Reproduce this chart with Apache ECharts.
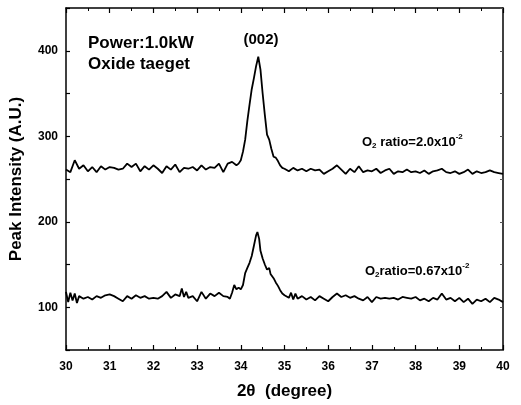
<!DOCTYPE html>
<html>
<head>
<meta charset="utf-8">
<title>XRD (002) peak</title>
<script src="https://cdn.jsdelivr.net/npm/echarts@6/dist/echarts.min.js"></script>
<style>
  html, body { margin: 0; padding: 0; background: #fff; }
  #xrdChart { width: 521px; height: 405px; }
</style>
</head>
<body>
<div id="xrdChart"></div>
<script>
// 2theta (deg), intensity (a.u.)
const highO2 = [
    [30.0, 261], [30.1, 258], [30.2, 272], [30.3, 262], [30.4, 266], [30.5, 259], [30.6, 264],
    [30.7, 258], [30.8, 265], [30.9, 261], [31.0, 264], [31.1, 263], [31.2, 261], [31.3, 262],
    [31.4, 268], [31.5, 264], [31.6, 268], [31.7, 259], [31.8, 265], [31.9, 261], [32.0, 266],
    [32.1, 262], [32.2, 257], [32.3, 265], [32.4, 261], [32.5, 267], [32.6, 258], [32.7, 263],
    [32.8, 262], [32.9, 264], [33.0, 260], [33.1, 266], [33.2, 261], [33.3, 264], [33.4, 263],
    [33.5, 268], [33.6, 258], [33.7, 268], [33.8, 270], [33.9, 266], [33.95, 268], [34.0, 272],
    [34.05, 282], [34.1, 296], [34.15, 318], [34.2, 337], [34.25, 355], [34.3, 368], [34.35, 382],
    [34.4, 393], [34.45, 378], [34.5, 350], [34.55, 325], [34.6, 302], [34.65, 296], [34.7, 285],
    [34.75, 276], [34.8, 275], [34.85, 271], [34.9, 266], [34.95, 263], [35.0, 262], [35.1, 259],
    [35.2, 263], [35.3, 260], [35.4, 262], [35.5, 259], [35.6, 262], [35.7, 260], [35.8, 261],
    [35.9, 256], [36.0, 259], [36.1, 262], [36.2, 266], [36.3, 261], [36.4, 256], [36.5, 262],
    [36.6, 258], [36.7, 265], [36.8, 258], [36.9, 260], [37.0, 259], [37.1, 262], [37.2, 257],
    [37.3, 260], [37.4, 262], [37.5, 256], [37.6, 259], [37.7, 258], [37.8, 261], [37.9, 258],
    [38.0, 259], [38.1, 257], [38.2, 260], [38.3, 256], [38.4, 259], [38.5, 260], [38.6, 262],
    [38.7, 258], [38.8, 257], [38.9, 259], [39.0, 256], [39.1, 258], [39.2, 261], [39.3, 256],
    [39.4, 259], [39.5, 257], [39.6, 258], [39.7, 260], [39.8, 258], [39.9, 257], [40.0, 256],
]

const lowO2 = [
    [30.0, 118], [30.05, 106], [30.1, 117], [30.15, 108], [30.2, 116], [30.25, 105], [30.3, 113],
    [30.4, 110], [30.5, 112], [30.6, 109], [30.7, 113], [30.8, 111], [30.9, 114], [31.0, 115],
    [31.1, 113], [31.2, 110], [31.3, 107], [31.4, 113], [31.5, 110], [31.6, 114], [31.7, 111],
    [31.8, 113], [31.9, 110], [32.0, 111], [32.1, 110], [32.2, 113], [32.3, 118], [32.4, 111],
    [32.5, 115], [32.6, 113], [32.65, 122], [32.7, 112], [32.75, 118], [32.8, 111], [32.9, 113],
    [33.0, 107], [33.1, 118], [33.2, 110], [33.3, 116], [33.4, 113], [33.5, 117], [33.6, 113],
    [33.7, 112], [33.75, 110], [33.8, 117], [33.85, 126], [33.9, 121], [33.95, 123], [34.0, 121],
    [34.05, 126], [34.1, 140], [34.15, 146], [34.2, 152], [34.25, 160], [34.3, 172], [34.35, 184],
    [34.38, 188], [34.42, 180], [34.45, 166], [34.5, 157], [34.55, 150], [34.6, 144], [34.65, 146],
    [34.68, 139], [34.72, 140], [34.75, 134], [34.8, 129], [34.85, 125], [34.9, 120], [34.95, 116],
    [35.0, 114], [35.1, 111], [35.15, 117], [35.2, 109], [35.25, 116], [35.3, 110], [35.4, 113],
    [35.5, 109], [35.6, 112], [35.7, 108], [35.8, 113], [35.9, 110], [36.0, 107], [36.1, 112],
    [36.2, 116], [36.3, 112], [36.4, 114], [36.5, 111], [36.6, 113], [36.7, 110], [36.8, 108],
    [36.9, 112], [37.0, 106], [37.1, 112], [37.2, 110], [37.3, 111], [37.4, 110], [37.5, 111],
    [37.6, 109], [37.7, 112], [37.8, 111], [37.9, 110], [38.0, 112], [38.1, 108], [38.2, 110],
    [38.3, 107], [38.4, 111], [38.5, 109], [38.6, 116], [38.7, 109], [38.8, 111], [38.9, 107],
    [39.0, 111], [39.1, 106], [39.2, 110], [39.3, 104], [39.4, 109], [39.5, 107], [39.6, 110],
    [39.7, 106], [39.8, 111], [39.9, 109], [40.0, 106],
]

const xRange = [30, 40]
const yRange = [50, 450]
const yLabelled = [100, 200, 300, 400]

const font = '"Liberation Sans", Arial, sans-serif'
const ink = '#000'

const axisBase = {
    axisLine: { show: true, onZero: false, lineStyle: { color: ink, width: 1.5 } },
    splitLine: { show: false },
}

// small rich-text styles for the O2 ratio notes (subscript 2, superscript -2)
const ratioRich = {
    b: { fontFamily: font, fontSize: 13, fontWeight: 'bold', fill: ink },
    s: { fontFamily: font, fontSize: 8, fontWeight: 'bold', fill: ink, padding: [7, 0, 0, 0] },
    p: { fontFamily: font, fontSize: 8, fontWeight: 'bold', fill: ink, padding: [0, 0, 10, 0] },
}

const chart = echarts.init(document.getElementById('xrdChart'))

chart.setOption({
    backgroundColor: '#fff',
    animation: false,
    grid: { left: 62, right: 18, top: 8, bottom: 41 },
    xAxis: [
        {
            ...axisBase,
            type: 'value',
            min: xRange[0],
            max: xRange[1],
            interval: 1,
            name: '2θ  (degree)',
            nameLocation: 'middle',
            nameGap: 33,
            nameTextStyle: { fontFamily: font, fontSize: 17, fontWeight: 'bold', color: ink },
            axisTick: { inside: true, length: 5, lineStyle: { color: ink, width: 1.2 } },
            minorTick: { show: true, splitNumber: 2, length: 3, lineStyle: { color: ink } },
            axisLabel: { fontFamily: font, fontSize: 12, fontWeight: 'bold', color: ink, margin: 11 },
        },
        {
            ...axisBase,
            type: 'value',
            position: 'top',
            min: xRange[0],
            max: xRange[1],
            interval: 1,
            axisTick: { inside: true, length: 5, lineStyle: { color: ink, width: 1.2 } },
            minorTick: { show: true, splitNumber: 2, length: 3, lineStyle: { color: ink } },
            axisLabel: { show: false },
        },
    ],
    yAxis: [
        {
            ...axisBase,
            type: 'value',
            min: yRange[0],
            max: yRange[1],
            interval: 50,
            name: 'Peak Intensity (A.U.)',
            nameLocation: 'middle',
            nameGap: 41,
            nameTextStyle: { fontFamily: font, fontSize: 17, fontWeight: 'bold', color: ink },
            axisTick: { inside: true, length: 4, lineStyle: { color: ink, width: 1.2 } },
            axisLabel: {
                fontFamily: font,
                fontSize: 12,
                fontWeight: 'bold',
                color: ink,
                margin: 8,
                formatter: v => (yLabelled.includes(v) ? String(v) : ''),
            },
        },
        {
            ...axisBase,
            type: 'value',
            position: 'right',
            min: yRange[0],
            max: yRange[1],
            interval: 50,
            axisTick: { inside: true, length: 3, lineStyle: { color: '#555' } },
            axisLabel: { show: false },
        },
    ],
    series: [
        {
            name: 'O2 ratio 2.0',
            type: 'line',
            data: highO2,
            showSymbol: false,
            lineStyle: { color: ink, width: 1.8 },
        },
        {
            name: 'O2 ratio 0.67',
            type: 'line',
            data: lowO2,
            showSymbol: false,
            lineStyle: { color: ink, width: 1.8 },
        },
    ],
    graphic: [
        {
            type: 'text',
            x: 88,
            y: 43,
            style: { text: 'Power:1.0kW', fontFamily: font, fontSize: 17, fontWeight: 'bold', fill: ink, verticalAlign: 'middle' },
        },
        {
            type: 'text',
            x: 88,
            y: 64,
            style: { text: 'Oxide taeget', fontFamily: font, fontSize: 17, fontWeight: 'bold', fill: ink, verticalAlign: 'middle' },
        },
        {
            type: 'text',
            x: 261,
            y: 40,
            style: { text: '(002)', fontFamily: font, fontSize: 15, fontWeight: 'bold', fill: ink, align: 'center', verticalAlign: 'middle' },
        },
        {
            type: 'text',
            x: 362,
            y: 142,
            style: { text: '{b|O}{s|2}{b| ratio=2.0x10}{p|-2}', verticalAlign: 'middle', rich: ratioRich },
        },
        {
            type: 'text',
            x: 365,
            y: 271,
            style: { text: '{b|O}{s|2}{b|ratio=0.67x10}{p|-2}', verticalAlign: 'middle', rich: ratioRich },
        },
    ],
})
</script>
</body>
</html>
